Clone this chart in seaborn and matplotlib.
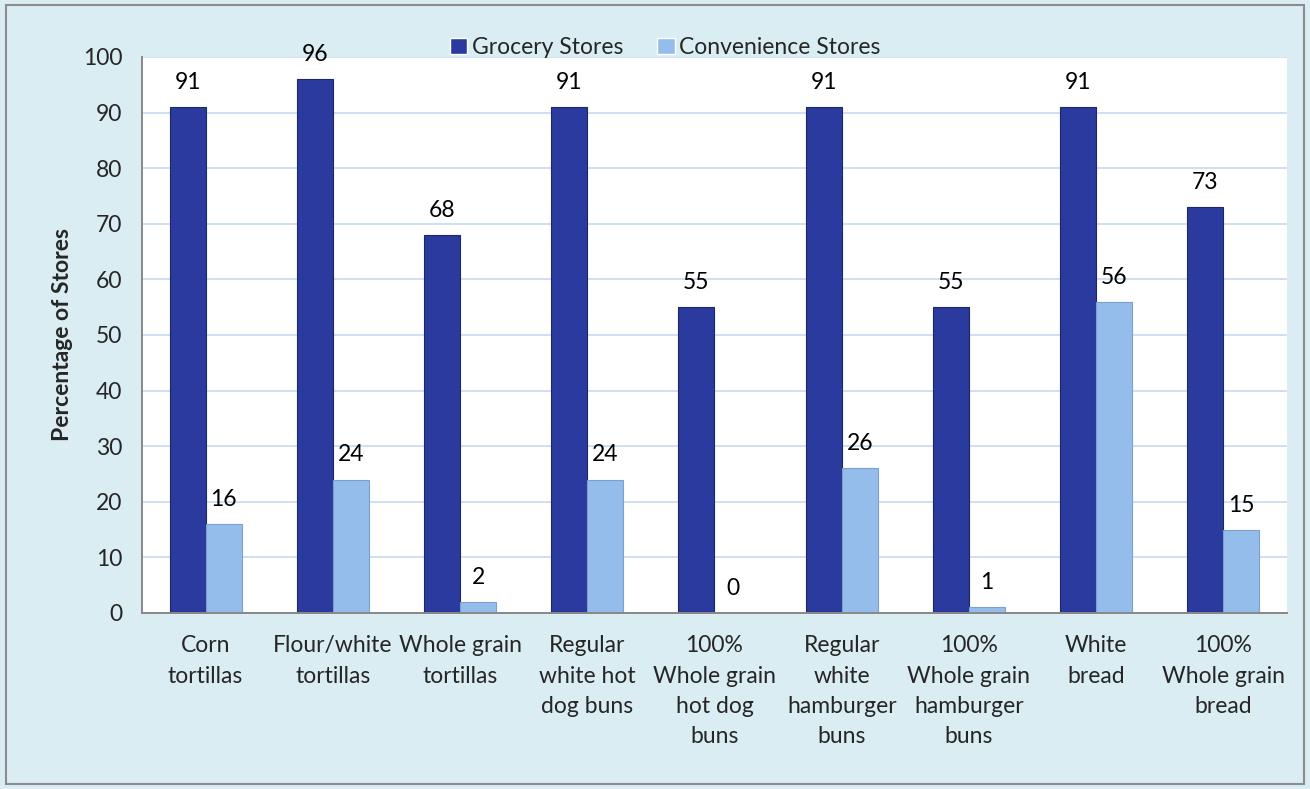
import matplotlib
matplotlib.use("Agg")
import matplotlib.pyplot as plt
import seaborn as sns
import pandas as pd
from matplotlib.patches import Rectangle

categories = [
    "Corn\ntortillas",
    "Flour/white\ntortillas",
    "Whole grain\ntortillas",
    "Regular\nwhite hot\ndog buns",
    "100%\nWhole grain\nhot dog\nbuns",
    "Regular\nwhite\nhamburger\nbuns",
    "100%\nWhole grain\nhamburger\nbuns",
    "White\nbread",
    "100%\nWhole grain\nbread",
]
grocery = [91, 96, 68, 91, 55, 91, 55, 91, 73]
convenience = [16, 24, 2, 24, 0, 26, 1, 56, 15]
series = ["Grocery Stores", "Convenience Stores"]
yticks = [0, 10, 20, 30, 40, 50, 60, 70, 80, 90, 100]

df = pd.DataFrame({
    "category": categories * 2,
    "store": [series[0]] * len(categories) + [series[1]] * len(categories),
    "pct": grocery + convenience,
})

sns.set_theme(style="white")
plt.rcParams["font.family"] = ["Lato", "DejaVu Sans"]

FS = 16.5
bg = "#DAEDF3"
dark = "#2B3A9E"
light = "#95BDEB"

fig = plt.figure(figsize=(13.1, 7.89), dpi=100, facecolor=bg)
ax = fig.add_axes([0.1084, 0.2231, 0.8740, 0.7047])
ax.set_facecolor("white")

sns.barplot(data=df, x="category", y="pct", hue="store", order=categories,
            hue_order=series, palette=[dark, light], saturation=1,
            width=0.566, gap=0, ax=ax, legend=True, zorder=3)

for patch, store in zip(ax.patches, [s for s in series for _ in categories]):
    patch.set_edgecolor("#1C2766" if store == series[0] else "#7BA0CE")
    patch.set_linewidth(0.8)

# value labels above each bar
for container in ax.containers:
    for bar, val in zip(container, container.datavalues):
        ax.annotate(f"{val:.0f}", (bar.get_x() + bar.get_width() / 2, val),
                    xytext=(0, 13), textcoords="offset points",
                    ha="center", va="baseline", fontsize=FS, color="black")

ax.set_ylim(0, 100)
ax.set_xlim(-0.5, len(categories) - 0.5)
ax.set_yticks(yticks)
ax.set_yticklabels([str(t) for t in yticks], fontsize=FS)
ax.yaxis.grid(True, color="#C6DAF0", linewidth=1.2, zorder=0)
ax.set_axisbelow(True)

ax.set_xlabel("")
ax.set_ylabel("Percentage of Stores", fontsize=FS, fontweight="bold", labelpad=7)

ax.tick_params(axis="x", which="major", length=0, pad=16, labelsize=FS)
ax.set_xticks([i - 0.5 for i in range(len(categories) + 1)], minor=True)
ax.tick_params(axis="x", which="minor", length=7, width=1.2, color="#888888",
               direction="out")
ax.tick_params(axis="y", length=7, width=1.2, color="#888888", direction="out", pad=7)
for lbl in ax.get_xticklabels():
    lbl.set_linespacing(1.55)

for side in ["top", "right"]:
    ax.spines[side].set_visible(False)
for side in ["left", "bottom"]:
    ax.spines[side].set_color("#888888")
    ax.spines[side].set_linewidth(1.4)
    ax.spines[side].set_zorder(4)

handles, labels = ax.get_legend_handles_labels()
ax.legend(handles, labels, loc="center", bbox_to_anchor=(0.457, 1.017),
          ncol=2, frameon=False, fontsize=FS, handlelength=0.75,
          handleheight=0.75, handletextpad=0.2, columnspacing=1.5,
          borderaxespad=0)

fig.patches.append(Rectangle((0.0046, 0.006), 0.9908, 0.988, transform=fig.transFigure,
                             fill=False, edgecolor="#8C8C8C", linewidth=1.5))

fig.savefig("out.png", dpi=100, facecolor=bg)
